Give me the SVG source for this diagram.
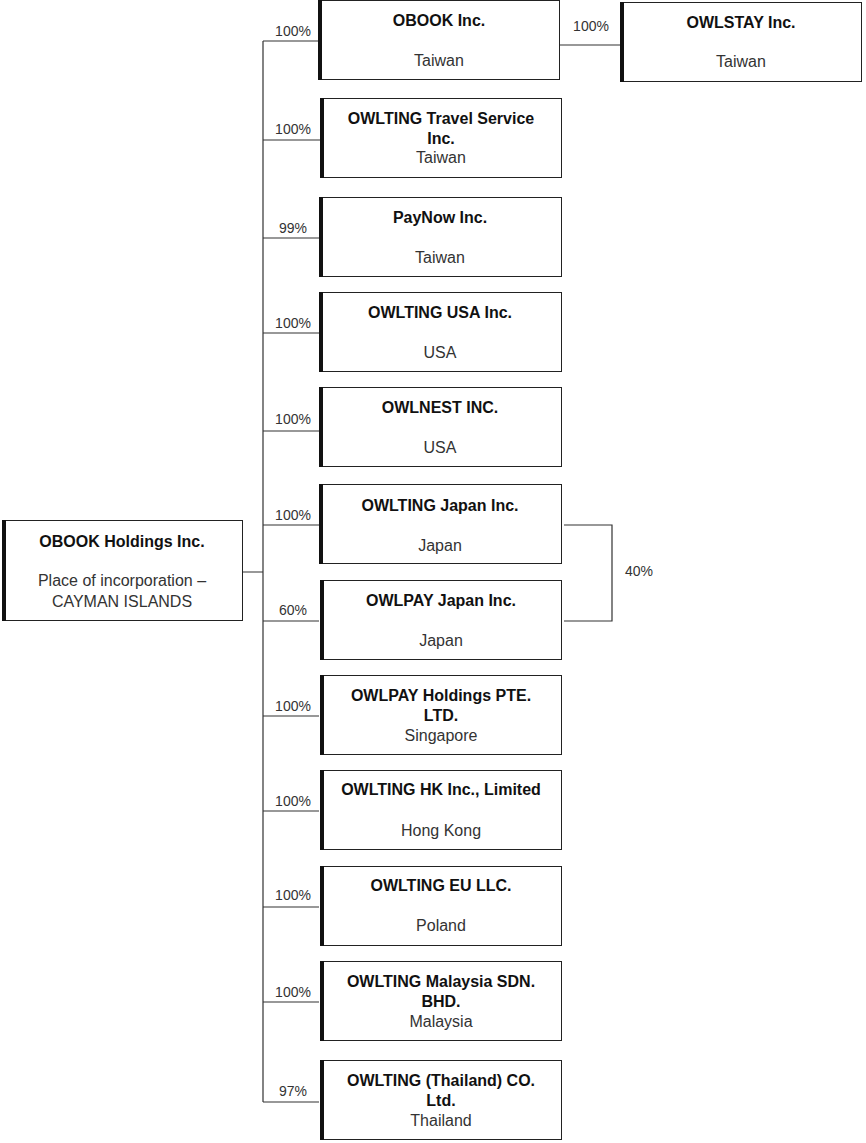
<svg xmlns="http://www.w3.org/2000/svg" width="866" height="1143" viewBox="0 0 866 1143">
<style>
.b{fill:#fff;stroke:#222;stroke-width:1}
.k{fill:#111}
.t{font-family:"Liberation Sans",Arial,sans-serif;font-size:16px;font-weight:bold;fill:#111;text-anchor:middle}
.s{font-family:"Liberation Sans",Arial,sans-serif;font-size:16px;fill:#333;text-anchor:middle}
.p{font-family:"Liberation Sans",Arial,sans-serif;font-size:14px;fill:#333;text-anchor:middle}
.c{fill:none;stroke:#333;stroke-width:1.2}
</style>
<rect width="866" height="1143" fill="#fff"/>
<g id="connectors">
<path class="c" d="M263,41V1102M243,572H263M263,41H319M263,140H320M263,238H319M263,333H319M263,431H319M263,525H319M263,621H319M263,716H319M263,811H319M263,907H319M263,1002H319M263,1102H319M560,45H620M564,525H612V621H564"/>
<text class="p" x="293" y="36">100%</text>
<text class="p" x="293" y="134">100%</text>
<text class="p" x="293" y="233">99%</text>
<text class="p" x="293" y="328">100%</text>
<text class="p" x="293" y="424">100%</text>
<text class="p" x="293" y="520">100%</text>
<text class="p" x="293" y="615">60%</text>
<text class="p" x="293" y="711">100%</text>
<text class="p" x="293" y="806">100%</text>
<text class="p" x="293" y="900">100%</text>
<text class="p" x="293" y="997">100%</text>
<text class="p" x="293" y="1096">97%</text>
<text class="p" x="591" y="31">100%</text>
<text class="p" x="639" y="576">40%</text>
</g>
<g id="holdings"><rect class="b" x="2.5" y="520.5" width="240" height="100"/><rect class="k" x="2" y="520" width="4" height="101"/>
<text class="t" x="122" y="547">OBOOK Holdings Inc.</text><text class="s" x="122" y="586">Place of incorporation –</text><text class="s" x="122" y="607">CAYMAN ISLANDS</text></g>
<g id="obook"><rect class="b" x="318.5" y="0.5" width="241" height="79"/><rect class="k" x="318" y="0" width="4" height="80"/>
<text class="t" x="439" y="26">OBOOK Inc.</text><text class="s" x="439" y="66">Taiwan</text></g>
<g id="owlstay"><rect class="b" x="620.5" y="2.5" width="241" height="79"/><rect class="k" x="620" y="2" width="4" height="80"/>
<text class="t" x="741" y="28">OWLSTAY Inc.</text><text class="s" x="741" y="67">Taiwan</text></g>
<g id="travel"><rect class="b" x="320.5" y="98.5" width="241" height="79"/><rect class="k" x="320" y="98" width="4" height="80"/>
<text class="t" x="441" y="124">OWLTING Travel Service</text><text class="t" x="441" y="144">Inc.</text><text class="s" x="441" y="163">Taiwan</text></g>
<g id="paynow"><rect class="b" x="319.5" y="197.5" width="242" height="79"/><rect class="k" x="319" y="197" width="4" height="80"/>
<text class="t" x="440" y="223">PayNow Inc.</text><text class="s" x="440" y="263">Taiwan</text></g>
<g id="usa"><rect class="b" x="319.5" y="292.5" width="242" height="79"/><rect class="k" x="319" y="292" width="4" height="80"/>
<text class="t" x="440" y="318">OWLTING USA Inc.</text><text class="s" x="440" y="358">USA</text></g>
<g id="owlnest"><rect class="b" x="319.5" y="387.5" width="242" height="79"/><rect class="k" x="319" y="387" width="4" height="80"/>
<text class="t" x="440" y="413">OWLNEST INC.</text><text class="s" x="440" y="453">USA</text></g>
<g id="japan"><rect class="b" x="319.5" y="484.5" width="242" height="79"/><rect class="k" x="319" y="484" width="4" height="80"/>
<text class="t" x="440" y="511">OWLTING Japan Inc.</text><text class="s" x="440" y="551">Japan</text></g>
<g id="owlpayjp"><rect class="b" x="320.5" y="580.5" width="241" height="79"/><rect class="k" x="320" y="580" width="4" height="80"/>
<text class="t" x="441" y="606">OWLPAY Japan Inc.</text><text class="s" x="441" y="646">Japan</text></g>
<g id="owlpaysg"><rect class="b" x="320.5" y="675.5" width="241" height="79"/><rect class="k" x="320" y="675" width="4" height="80"/>
<text class="t" x="441" y="701">OWLPAY Holdings PTE.</text><text class="t" x="441" y="721">LTD.</text><text class="s" x="441" y="741">Singapore</text></g>
<g id="hk"><rect class="b" x="320.5" y="770.5" width="241" height="79"/><rect class="k" x="320" y="770" width="4" height="80"/>
<text class="t" x="441" y="795">OWLTING HK Inc., Limited</text><text class="s" x="441" y="836">Hong Kong</text></g>
<g id="eu"><rect class="b" x="320.5" y="866.5" width="241" height="79"/><rect class="k" x="320" y="866" width="4" height="80"/>
<text class="t" x="441" y="891">OWLTING EU LLC.</text><text class="s" x="441" y="931">Poland</text></g>
<g id="malaysia"><rect class="b" x="320.5" y="961.5" width="241" height="79"/><rect class="k" x="320" y="961" width="4" height="80"/>
<text class="t" x="441" y="987">OWLTING Malaysia SDN.</text><text class="t" x="441" y="1007">BHD.</text><text class="s" x="441" y="1027">Malaysia</text></g>
<g id="thailand"><rect class="b" x="320.5" y="1060.5" width="241" height="79"/><rect class="k" x="320" y="1060" width="4" height="80"/>
<text class="t" x="441" y="1086">OWLTING (Thailand) CO.</text><text class="t" x="441" y="1106">Ltd.</text><text class="s" x="441" y="1126">Thailand</text></g>
</svg>
